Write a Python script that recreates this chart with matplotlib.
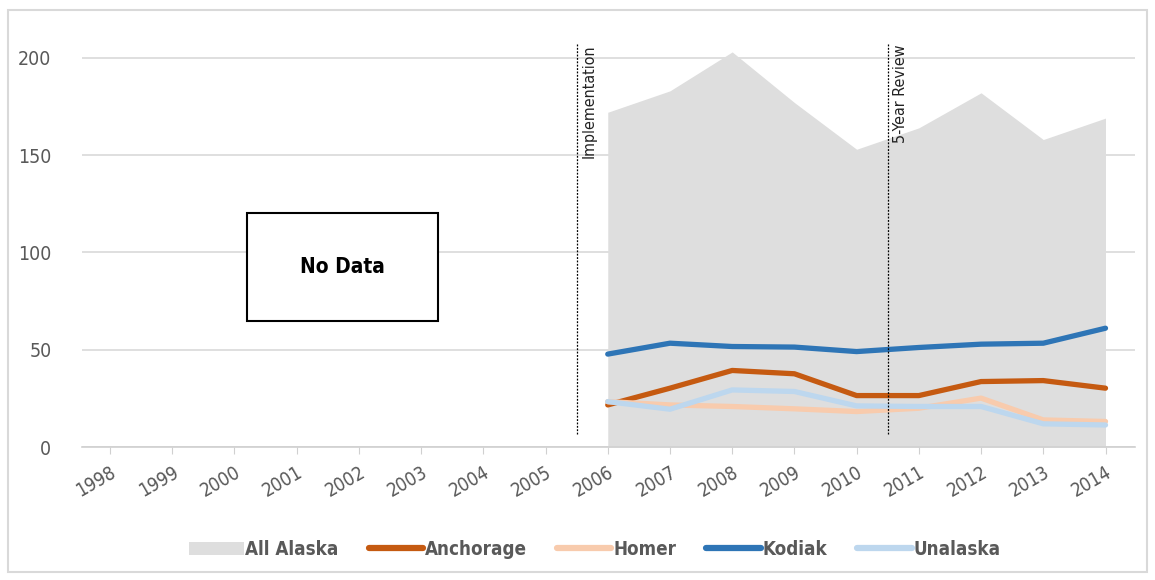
import matplotlib.pyplot as plt
from matplotlib.patches import Rectangle
from matplotlib import font_manager

years = list(range(1998, 2015))
data_years = list(range(2006, 2015))

all_alaska = [172, 183, 203, 177, 153, 164, 182, 158, 169]
anchorage = [21.7, 30.3, 39.4, 37.7, 26.5, 26.5, 33.7, 34.2, 30.3]
homer = [23.4, 21.7, 20.9, 19.7, 18.3, 20.0, 25.2, 14.0, 13.2]
kodiak = [47.8, 53.4, 51.7, 51.4, 49.1, 51.2, 52.9, 53.4, 61.1]
unalaska = [23.4, 19.5, 29.4, 28.6, 21.2, 20.9, 20.9, 12.0, 11.4]

events = [(2005.5, 'Implementation'), (2010.5, '5-Year Review')]

txt_color = '#595959'


def fp(size, weight='normal'):
    return font_manager.FontProperties(family='DejaVu Sans', stretch='condensed',
                                       size=size, weight=weight)


fig = plt.figure(figsize=(11.55, 5.8), dpi=100)
ax = fig.add_axes([0.071, 0.229, 0.912, 0.705])

ax.fill_between(data_years, all_alaska, 0, color='#dedede', linewidth=0,
                label='All Alaska', zorder=1)
ax.plot(data_years, anchorage, color='#c55a11', lw=3.8, label='Anchorage',
        solid_capstyle='round', zorder=3)
ax.plot(data_years, homer, color='#f8cbad', lw=3.8, label='Homer',
        solid_capstyle='round', zorder=3)
ax.plot(data_years, kodiak, color='#2e75b6', lw=3.8, label='Kodiak',
        solid_capstyle='round', zorder=3)
ax.plot(data_years, unalaska, color='#bdd7ee', lw=3.8, label='Unalaska',
        solid_capstyle='round', zorder=3)

for x, name in events:
    ax.plot([x, x], [7, 207], color='black', lw=0.9, ls=(0, (1.5, 1.2)), zorder=4)
    ax.text(x + 0.08, 207, name, rotation=90, ha='left', va='top',
            fontproperties=fp(11.5), color='#222222', zorder=5)

# box over the years without records
ax.add_patch(Rectangle((2000.2, 64.8), 3.07, 55.5, facecolor='white',
                       edgecolor='black', lw=1.5, zorder=5))
ax.text(2001.73, 92.5, 'No Data', ha='center', va='center',
        fontproperties=fp(15, 'bold'), color='black', zorder=6)

ax.set_xlim(1997.55, 2014.48)
ax.set_ylim(0, 210)
ax.set_yticks([0, 50, 100, 150, 200])
ax.set_xticks(years)
ax.set_xticklabels([str(y) for y in years], rotation=30, ha='right',
                   rotation_mode='anchor', fontproperties=fp(13.5), color=txt_color)
for lbl in ax.get_yticklabels():
    lbl.set_fontproperties(fp(14))
    lbl.set_color(txt_color)

ax.grid(axis='y', color='#d9d9d9', lw=1.2, zorder=0)
ax.set_axisbelow(True)
for side in ['top', 'right', 'left']:
    ax.spines[side].set_visible(False)
ax.spines['bottom'].set_color('#d0d0d0')
ax.spines['bottom'].set_linewidth(1.2)
ax.tick_params(axis='x', length=5, color='#d0d0d0', pad=6)
ax.tick_params(axis='y', length=0, pad=22)

leg = ax.legend(loc='upper center', bbox_to_anchor=(0.487, -0.185), ncol=5,
                frameon=False, handlelength=2.9, handletextpad=0.1,
                columnspacing=1.6, prop=fp(13.5, 'bold'))
for t in leg.get_texts():
    t.set_color(txt_color)
for h in leg.legend_handles[1:]:
    h.set_linewidth(4.5)

# thin frame around the whole figure
fig.patches.append(Rectangle((0.007, 0.014), 0.986, 0.968, transform=fig.transFigure,
                             fill=False, edgecolor='#d9d9d9', lw=1.5))

fig.savefig('out.png', dpi=100)
